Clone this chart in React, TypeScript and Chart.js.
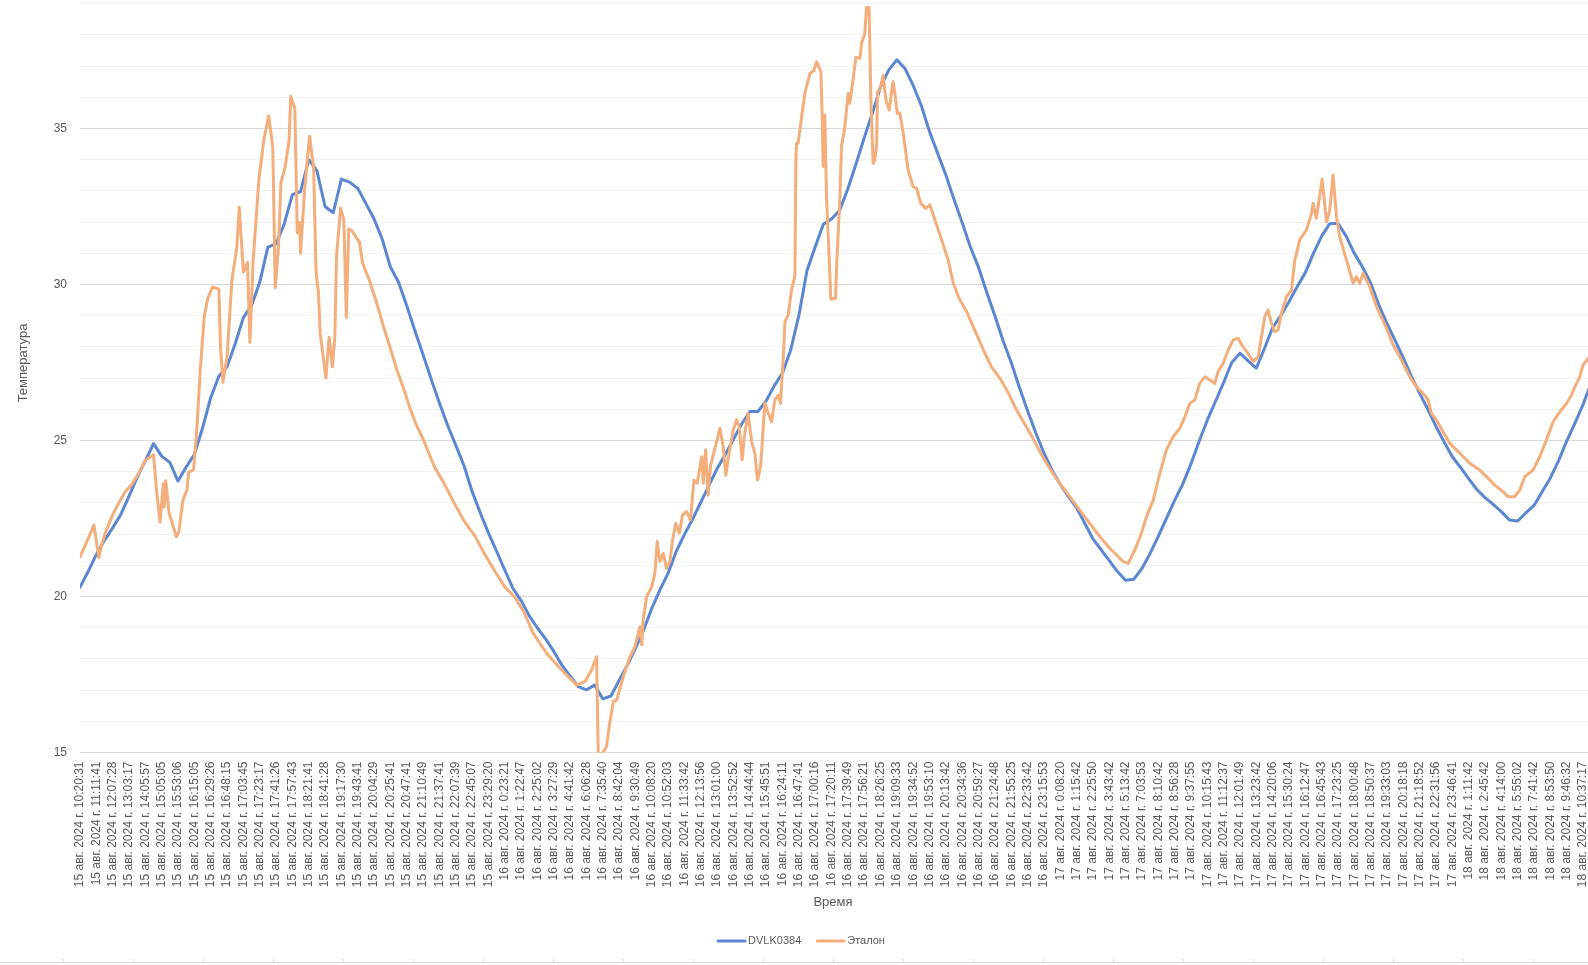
import React, { useEffect, useRef } from "react";
import { Chart, registerables } from "chart.js";

Chart.register(...registerables);

// tick labels of the category axis (every 10th reading is labelled in the sheet)
const tickLabels = [
  "15 авг. 2024 г. 10:20:31", "15 авг. 2024 г. 11:11:41", "15 авг. 2024 г. 12:07:28", "15 авг. 2024 г. 13:03:17",
  "15 авг. 2024 г. 14:05:57", "15 авг. 2024 г. 15:05:05", "15 авг. 2024 г. 15:53:06", "15 авг. 2024 г. 16:15:05",
  "15 авг. 2024 г. 16:29:26", "15 авг. 2024 г. 16:48:15", "15 авг. 2024 г. 17:03:45", "15 авг. 2024 г. 17:23:17",
  "15 авг. 2024 г. 17:41:26", "15 авг. 2024 г. 17:57:43", "15 авг. 2024 г. 18:21:41", "15 авг. 2024 г. 18:41:28",
  "15 авг. 2024 г. 19:17:30", "15 авг. 2024 г. 19:43:41", "15 авг. 2024 г. 20:04:29", "15 авг. 2024 г. 20:25:41",
  "15 авг. 2024 г. 20:47:41", "15 авг. 2024 г. 21:10:49", "15 авг. 2024 г. 21:37:41", "15 авг. 2024 г. 22:07:39",
  "15 авг. 2024 г. 22:45:07", "15 авг. 2024 г. 23:29:20", "16 авг. 2024 г. 0:23:21", "16 авг. 2024 г. 1:22:47",
  "16 авг. 2024 г. 2:25:02", "16 авг. 2024 г. 3:27:29", "16 авг. 2024 г. 4:41:42", "16 авг. 2024 г. 6:06:28",
  "16 авг. 2024 г. 7:35:40", "16 авг. 2024 г. 8:42:04", "16 авг. 2024 г. 9:30:49", "16 авг. 2024 г. 10:08:20",
  "16 авг. 2024 г. 10:52:03", "16 авг. 2024 г. 11:33:42", "16 авг. 2024 г. 12:13:56", "16 авг. 2024 г. 13:01:00",
  "16 авг. 2024 г. 13:52:52", "16 авг. 2024 г. 14:44:44", "16 авг. 2024 г. 15:45:51", "16 авг. 2024 г. 16:24:11",
  "16 авг. 2024 г. 16:47:41", "16 авг. 2024 г. 17:00:16", "16 авг. 2024 г. 17:20:11", "16 авг. 2024 г. 17:39:49",
  "16 авг. 2024 г. 17:56:21", "16 авг. 2024 г. 18:26:25", "16 авг. 2024 г. 19:09:33", "16 авг. 2024 г. 19:34:52",
  "16 авг. 2024 г. 19:53:10", "16 авг. 2024 г. 20:13:42", "16 авг. 2024 г. 20:34:36", "16 авг. 2024 г. 20:59:27",
  "16 авг. 2024 г. 21:24:48", "16 авг. 2024 г. 21:55:25", "16 авг. 2024 г. 22:33:42", "16 авг. 2024 г. 23:15:53",
  "17 авг. 2024 г. 0:08:20", "17 авг. 2024 г. 1:15:42", "17 авг. 2024 г. 2:25:50", "17 авг. 2024 г. 3:43:42",
  "17 авг. 2024 г. 5:13:42", "17 авг. 2024 г. 7:03:53", "17 авг. 2024 г. 8:10:42", "17 авг. 2024 г. 8:56:28",
  "17 авг. 2024 г. 9:37:55", "17 авг. 2024 г. 10:15:43", "17 авг. 2024 г. 11:12:37", "17 авг. 2024 г. 12:01:49",
  "17 авг. 2024 г. 13:23:42", "17 авг. 2024 г. 14:20:06", "17 авг. 2024 г. 15:30:24", "17 авг. 2024 г. 16:12:47",
  "17 авг. 2024 г. 16:45:43", "17 авг. 2024 г. 17:23:25", "17 авг. 2024 г. 18:00:48", "17 авг. 2024 г. 18:50:37",
  "17 авг. 2024 г. 19:33:03", "17 авг. 2024 г. 20:18:18", "17 авг. 2024 г. 21:18:52", "17 авг. 2024 г. 22:31:56",
  "17 авг. 2024 г. 23:46:41", "18 авг. 2024 г. 1:11:42", "18 авг. 2024 г. 2:45:42", "18 авг. 2024 г. 4:14:00",
  "18 авг. 2024 г. 5:55:02", "18 авг. 2024 г. 7:41:42", "18 авг. 2024 г. 8:53:50", "18 авг. 2024 г. 9:46:32",
  "18 авг. 2024 г. 10:37:17",
];

// DVLK0384, one value every half label step
const dvlkStep = 0.5;
const dvlkValues = [
  20.3, 20.8, 21.35, 21.8, 22.2, 22.63, 23.22, 23.82, 24.35, 24.9,
  24.5, 24.3, 23.7, 24.15, 24.55, 25.4, 26.37, 27.06, 27.36, 28.1,
  28.94, 29.33, 30.07, 31.2, 31.3, 31.94, 32.88, 32.98, 34.0, 33.65,
  32.5, 32.3, 33.38, 33.28, 33.08, 32.6, 32.1, 31.45, 30.56, 30.07,
  29.32, 28.52, 27.75, 26.96, 26.2, 25.49, 24.85, 24.2, 23.37, 22.68,
  22.04, 21.45, 20.85, 20.26, 19.87, 19.38, 18.99, 18.64, 18.24, 17.8,
  17.45, 17.11, 17.01, 17.16, 16.72, 16.81, 17.31, 17.8, 18.34, 18.93,
  19.62, 20.21, 20.75, 21.45, 21.99, 22.48, 23.02, 23.56, 24.1, 24.55,
  25.04, 25.53, 25.93, 25.93, 26.27, 26.76, 27.16, 27.9, 29.0, 30.45,
  31.2, 31.93, 32.1, 32.38, 33.07, 33.86, 34.7, 35.49, 36.33, 36.87,
  37.2, 36.92, 36.38, 35.73, 34.9, 34.2, 33.51, 32.72, 31.98, 31.2,
  30.55, 29.75, 29.0, 28.2, 27.5, 26.7, 25.95, 25.25, 24.6, 24.05,
  23.6, 23.2, 22.85, 22.35, 21.85, 21.5, 21.15, 20.8, 20.52, 20.55,
  20.9, 21.38, 21.93, 22.5, 23.08, 23.6, 24.25, 24.97, 25.65, 26.25,
  26.86, 27.5, 27.8, 27.55, 27.32, 27.95, 28.62, 29.0, 29.45, 29.93,
  30.38, 31.0, 31.55, 31.95, 31.96, 31.55, 31.0, 30.56, 30.05, 29.35,
  28.75, 28.2, 27.65, 27.05, 26.51, 26.0, 25.45, 24.95, 24.48, 24.14,
  23.78, 23.43, 23.17, 22.95, 22.72, 22.45, 22.42, 22.68, 22.92, 23.36,
  23.8, 24.35, 24.98, 25.55, 26.15, 26.85,
];

// Эталон, [label position, value]
const etalonPoints: [number, number][] = [
  [0, 21.27], [0.55, 21.91], [0.85, 22.29], [1.15, 21.25], [1.3, 21.59], [1.55, 22.04], [1.85, 22.43],
  [2.05, 22.68], [2.4, 23.02], [2.75, 23.35], [3.2, 23.61], [3.6, 23.96], [4.0, 24.37], [4.3, 24.47],
  [4.5, 24.54], [4.7, 23.32], [4.9, 22.39], [5.1, 23.61], [5.15, 22.87], [5.25, 23.71], [5.45, 22.68],
  [5.6, 22.43], [5.9, 21.91], [6.05, 22.07], [6.3, 23.09], [6.55, 23.42], [6.65, 23.99], [6.95, 24.06],
  [7.15, 25.34], [7.35, 27.16], [7.6, 28.96], [7.8, 29.51], [8.1, 29.92], [8.5, 29.85], [8.6, 28.0],
  [8.75, 26.87], [9.0, 27.68], [9.3, 30.15], [9.6, 31.2], [9.75, 32.48], [10.0, 30.4], [10.25, 30.71],
  [10.4, 28.14], [10.6, 30.79], [10.95, 33.35], [11.25, 34.63], [11.55, 35.4], [11.8, 34.41], [11.95, 29.9],
  [12.15, 31.2], [12.3, 33.27], [12.55, 33.74], [12.8, 34.63], [12.9, 36.03], [13.15, 35.64], [13.3, 31.65],
  [13.45, 31.99], [13.5, 31.0], [13.75, 33.04], [14.05, 34.75], [14.3, 33.76], [14.45, 30.37], [14.6, 29.72],
  [14.7, 28.44], [15.05, 27.0], [15.25, 28.31], [15.45, 27.36], [15.6, 28.31], [15.7, 30.89], [15.95, 32.45],
  [16.15, 32.07], [16.3, 28.94], [16.45, 31.78], [16.65, 31.72], [16.85, 31.55], [17.1, 31.37], [17.3, 30.69],
  [17.75, 30.08], [18.15, 29.43], [18.6, 28.61], [18.9, 28.12], [19.4, 27.26], [19.9, 26.52], [20.2, 26.03],
  [20.55, 25.55], [21.1, 24.92], [21.7, 24.15], [22.3, 23.61], [22.9, 23.0], [23.5, 22.43], [24.2, 21.91],
  [24.75, 21.38], [25.35, 20.85], [26.0, 20.31], [26.6, 19.99], [27.2, 19.47], [27.74, 18.82], [28.56, 18.18],
  [29.38, 17.7], [30.4, 17.16], [30.9, 17.27], [31.31, 17.64], [31.62, 18.07], [31.72, 14.95], [31.95, 14.95],
  [32.23, 15.19], [32.39, 15.83], [32.64, 16.63], [32.85, 16.68], [33.05, 17.06], [33.35, 17.59], [33.66, 18.07],
  [33.97, 18.39], [34.27, 19.03], [34.38, 18.45], [34.47, 19.25], [34.68, 19.99], [34.99, 20.31], [35.19, 20.74],
  [35.33, 21.76], [35.5, 21.12], [35.7, 21.38], [35.9, 20.9], [36.11, 21.12], [36.27, 21.81], [36.47, 22.35],
  [36.68, 22.03], [36.88, 22.61], [37.13, 22.72], [37.37, 22.45], [37.58, 23.73], [37.78, 23.63], [38.05, 24.48],
  [38.15, 23.63], [38.29, 24.7], [38.45, 23.25], [38.6, 24.21], [38.97, 24.96], [39.17, 25.39], [39.37, 24.8],
  [39.53, 23.89], [39.68, 24.43], [39.98, 25.34], [40.19, 25.66], [40.35, 25.44], [40.53, 24.38], [40.66, 25.12],
  [40.9, 25.87], [41.11, 24.96], [41.31, 24.59], [41.47, 23.73], [41.66, 24.16], [41.92, 26.2], [42.13, 25.87],
  [42.33, 25.6], [42.53, 26.3], [42.74, 26.46], [42.88, 26.19], [43.04, 27.58], [43.15, 28.81], [43.35, 29.02],
  [43.55, 29.82], [43.76, 30.27], [43.82, 33.99], [43.86, 34.53], [43.96, 34.53], [44.17, 35.38], [44.37, 36.13],
  [44.68, 36.77], [44.92, 36.85], [45.08, 37.14], [45.35, 36.82], [45.43, 35.38], [45.49, 33.78], [45.59, 35.43],
  [45.7, 32.71], [45.8, 31.53], [45.96, 29.53], [46.25, 29.56], [46.31, 30.57], [46.51, 32.71], [46.61, 34.42],
  [46.82, 35.06], [47.02, 36.13], [47.12, 35.81], [47.29, 36.45], [47.49, 37.28], [47.74, 37.25], [47.84, 37.73],
  [48.04, 38.05], [48.14, 38.88], [48.3, 38.88], [48.41, 35.91], [48.55, 33.88], [48.65, 33.99], [48.76, 34.47],
  [48.82, 36.18], [48.96, 36.23], [49.16, 36.71], [49.33, 35.91], [49.53, 35.59], [49.68, 36.18], [49.77, 36.5],
  [49.88, 36.13], [50.02, 35.49], [50.18, 35.5], [50.39, 34.85], [50.69, 33.67], [51.0, 33.13], [51.2, 33.09],
  [51.47, 32.6], [51.76, 32.44], [52.02, 32.55], [52.33, 32.07], [52.74, 31.43], [53.14, 30.79], [53.45, 30.04],
  [53.81, 29.56], [54.3, 29.1], [54.8, 28.5], [55.3, 27.9], [55.8, 27.35], [56.3, 27.0], [56.8, 26.55],
  [57.3, 26.0], [57.8, 25.55], [58.3, 25.1], [58.8, 24.6], [59.3, 24.15], [59.8, 23.75], [60.3, 23.4],
  [60.8, 23.05], [61.2, 22.77], [61.8, 22.35], [62.42, 21.92], [63.04, 21.54], [63.45, 21.33], [63.85, 21.12],
  [64.16, 21.06], [64.57, 21.49], [64.97, 22.03], [65.28, 22.56], [65.69, 23.09], [66.1, 23.95], [66.5, 24.7],
  [66.91, 25.12], [67.32, 25.39], [67.63, 25.76], [67.93, 26.19], [68.24, 26.3], [68.54, 26.83], [68.85, 27.04],
  [69.16, 26.94], [69.46, 26.83], [69.66, 27.21], [69.97, 27.47], [70.28, 27.9], [70.58, 28.22], [70.89, 28.28],
  [71.19, 28.0], [71.5, 27.79], [71.81, 27.53], [72.12, 27.69], [72.32, 28.33], [72.52, 28.97], [72.72, 29.18],
  [72.93, 28.76], [73.13, 28.49], [73.33, 28.54], [73.54, 29.08], [73.85, 29.61], [74.15, 29.82], [74.36, 30.79],
  [74.66, 31.43], [75.07, 31.75], [75.38, 32.28], [75.48, 32.6], [75.68, 32.12], [76.03, 33.37], [76.3, 32.01],
  [76.5, 32.39], [76.7, 33.51], [76.91, 32.17], [77.11, 31.53], [77.52, 30.79], [77.93, 30.04], [78.13, 30.25],
  [78.34, 30.04], [78.54, 30.36], [78.95, 29.93], [79.36, 29.29], [79.97, 28.6], [80.37, 28.06], [80.78, 27.69],
  [81.4, 27.04], [81.8, 26.72], [82.21, 26.51], [82.52, 26.3], [82.72, 25.87], [83.03, 25.66], [83.43, 25.28],
  [83.84, 24.91], [84.46, 24.59], [85.07, 24.27], [85.68, 24.05], [86.09, 23.84], [86.6, 23.57], [87.1, 23.36],
  [87.41, 23.2], [87.82, 23.2], [88.13, 23.41], [88.43, 23.84], [88.94, 24.05], [89.35, 24.48], [89.76, 25.02],
  [90.17, 25.6], [90.58, 25.92], [90.99, 26.19], [91.3, 26.46], [91.5, 26.72], [91.8, 27.04], [92.0, 27.42],
  [92.25, 27.58], [92.6, 27.9],
];

const seriesNames = ["DVLK0384", "Эталон"];
const seriesColors = ["#5b86d1", "#f4ae7c"];
const xTitle = "Время";
const yTitle = "Температура";

const fontFamily = "'Liberation Sans', Arial, sans-serif";
const textColor = "#595959";

// axis titles and legend placed the way Excel put them
const excelTextPlugin = {
  id: "excelText",
  afterDraw(chart: Chart) {
    const { ctx } = chart;
    ctx.save();
    ctx.fillStyle = textColor;
    ctx.textAlign = "center";
    ctx.textBaseline = "middle";
    ctx.font = `13px ${fontFamily}`;
    ctx.fillText(xTitle, 833, 902);
    ctx.save();
    ctx.translate(23, 363);
    ctx.rotate(-Math.PI / 2);
    ctx.fillText(yTitle, 0, 0);
    ctx.restore();

    ctx.font = `11px ${fontFamily}`;
    const lineLen = 29;
    const gap = 2;
    const itemGap = 15;
    const items = chart.data.datasets.map((ds) => ({
      label: String(ds.label),
      color: String(ds.borderColor),
      w: ctx.measureText(String(ds.label)).width,
    }));
    const total =
      items.reduce((s, it) => s + lineLen + gap + it.w, 0) + itemGap * (items.length - 1);
    let x = 801 - total / 2;
    const y = 941;
    ctx.textAlign = "left";
    ctx.lineCap = "round";
    ctx.lineWidth = 3;
    for (const it of items) {
      ctx.strokeStyle = it.color;
      ctx.beginPath();
      ctx.moveTo(x + 1, y);
      ctx.lineTo(x + lineLen - 1, y);
      ctx.stroke();
      ctx.fillText(it.label, x + lineLen + gap, y);
      x += lineLen + gap + it.w + itemGap;
    }
    ctx.restore();
  },
};

export default function App() {
  const chartRef = useRef<HTMLCanvasElement | null>(null);
  const chartInstance = useRef<Chart | null>(null);

  useEffect(() => {
    if (!chartRef.current) return;
    chartInstance.current = new Chart(chartRef.current, {
      type: "line",
      data: {
        datasets: [
          {
            label: seriesNames[0],
            data: dvlkValues.map((v, i) => ({ x: i * dvlkStep, y: v })),
            borderColor: seriesColors[0],
            borderWidth: 3,
            pointRadius: 0,
            borderJoinStyle: "round",
            borderCapStyle: "round",
            order: 1,
          },
          {
            label: seriesNames[1],
            data: etalonPoints.map(([x, y]) => ({ x, y })),
            borderColor: seriesColors[1],
            borderWidth: 3,
            pointRadius: 0,
            borderJoinStyle: "round",
            borderCapStyle: "round",
            order: 0,
          },
        ],
      },
      options: {
        animation: false,
        responsive: false,
        maintainAspectRatio: false,
        events: [],
        layout: { padding: { top: 3.7, right: 24.3, bottom: 0, left: 0 } },
        plugins: {
          legend: { display: false },
          tooltip: { enabled: false },
        },
        scales: {
          x: {
            type: "linear",
            min: 0,
            max: 94,
            grid: { display: false, drawTicks: false },
            border: { display: false },
            ticks: {
              stepSize: 1,
              maxTicksLimit: 200,
              autoSkip: false,
              minRotation: 90,
              maxRotation: 90,
              padding: 9,
              color: textColor,
              font: { size: 12, family: fontFamily },
              callback: (v) => tickLabels[Math.round(Number(v))] ?? "",
            },
            afterFit: (scale) => {
              scale.height = 212.5;
              scale.paddingLeft = 0;
              scale.paddingRight = 0;
            },
          },
          y: {
            min: 15,
            max: 39,
            grid: {
              drawTicks: false,
              lineWidth: 1,
              color: (ctx) =>
                ctx.tick && Math.round(ctx.tick.value) % 5 === 0 ? "#d9d9d9" : "#f2f2f2",
            },
            border: { display: false },
            ticks: {
              stepSize: 1,
              padding: 13,
              color: textColor,
              font: { size: 12, family: fontFamily },
              callback: (v) => (Math.round(Number(v)) % 5 === 0 ? String(v) : ""),
            },
            afterFit: (scale) => {
              scale.width = 80;
              scale.paddingTop = 0;
              scale.paddingBottom = 0;
            },
          },
        },
      },
      plugins: [excelTextPlugin],
    });

    return () => {
      if (chartInstance.current) chartInstance.current.destroy();
    };
  }, []);

  return (
    <div
      style={{
        position: "absolute",
        left: 0,
        top: 0,
        width: 1588,
        height: 965,
        overflow: "hidden",
        background: "#fff",
      }}
    >
      <canvas ref={chartRef} width={1640} height={965} style={{ width: 1640, height: 965 }} />
      <div
        style={{
          position: "absolute",
          left: 0,
          top: 962,
          width: 1588,
          height: 1,
          background: "#d9d9d9",
        }}
      />
      <div
        style={{
          position: "absolute",
          left: 0,
          top: 959,
          width: 1588,
          height: 3,
          backgroundImage: "linear-gradient(to right, #d9d9d9 0 1px, transparent 1px)",
          backgroundSize: "70px 3px",
          backgroundRepeat: "repeat-x",
          backgroundPosition: "63px 0",
        }}
      />
    </div>
  );
}
